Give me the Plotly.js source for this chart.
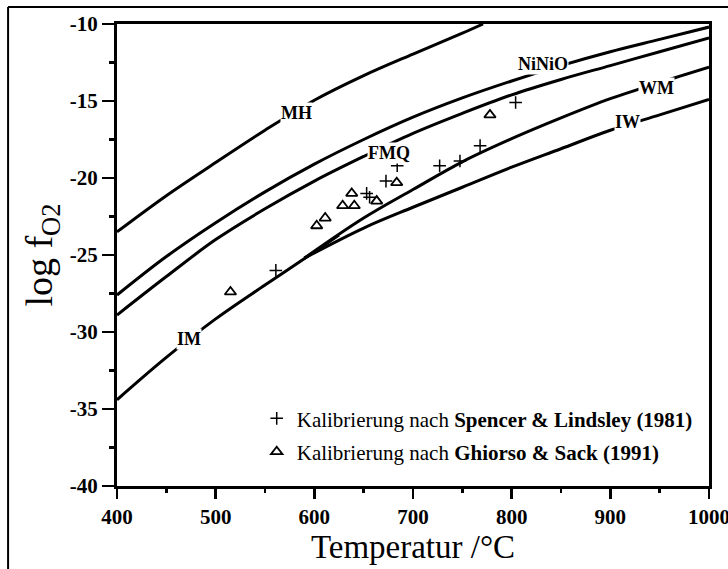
<!DOCTYPE html>
<html>
<head>
<meta charset="utf-8">
<script src="https://cdn.plot.ly/plotly-3.0.1.min.js"></script>
<style>html,body{margin:0;padding:0;background:#fff;}#chart{width:728px;height:569px;}</style>
</head>
<body>
<div id="chart"></div>
<script>
// Buffer curves (temperature in °C, log fO2)
const mhT   = [400, 450, 500, 550, 600, 650, 700, 750, 771];
const mhV   = [-23.5, -21.15, -19.0, -16.9, -14.95, -13.35, -11.95, -10.6, -10.0];
const ninioT = [400, 450, 500, 550, 600, 650, 700, 750, 800, 850, 900, 950, 1000];
const ninioV = [-27.6, -25.1, -22.9, -20.9, -19.1, -17.5, -16.05, -14.8, -13.7, -12.7, -11.8, -11.0, -10.2];
const fmqT  = [400, 450, 500, 550, 600, 650, 700, 750, 800, 850, 900, 950, 1000];
const fmqV  = [-28.9, -26.4, -24.0, -22.0, -20.2, -18.6, -17.1, -15.8, -14.6, -13.6, -12.7, -11.8, -10.9];
const imT   = [400, 450, 500, 550, 600, 625];
const imV   = [-34.4, -31.65, -29.15, -26.95, -24.8, -23.7];
const wmT   = [590, 650, 700, 750, 800, 850, 900, 950, 1000];
const wmV   = [-25.2, -22.6, -20.75, -18.95, -17.45, -16.1, -14.85, -13.8, -12.8];
const iwT   = [590, 650, 700, 750, 800, 850, 900, 950, 1000];
const iwV   = [-25.2, -23.25, -21.9, -20.6, -19.3, -18.1, -16.9, -15.9, -14.9];

// Measured points
const slT = [561, 653, 656, 672.6, 684, 727, 747.6, 768, 804];
const slV = [-26.0, -21.0, -21.25, -20.2, -19.2, -19.2, -18.9, -17.9, -15.1];
const gsT = [515, 602.4, 611, 628.7, 637.9, 640.5, 663.2, 683.5, 778];
const gsV = [-27.4, -23.1, -22.6, -21.8, -21.0, -21.8, -21.5, -20.3, -15.9];

// Curve labels
const labelText = ['MH', 'NiNiO', 'FMQ', 'WM', 'IW', 'IM'];
const labelT    = [582, 832, 676, 947, 917, 473];
const labelV    = [-15.8, -12.6, -18.4, -14.15, -16.35, -30.45];

// Axis ticks
const xTickVals = [400, 500, 600, 700, 800, 900, 1000];
const xTickText = ['400', '500', '600', '700', '800', '900', '1000'];
const yTickVals = [-40, -35, -30, -25, -20, -15, -10];
const yTickText = ['-40', '-35', '-30', '-25', '-20', '-15', '-10'];

const serif = 'Liberation Serif, Times New Roman, serif';
const lineStyle = {color: '#000', width: 3, shape: 'spline', smoothing: 1.0};

function curve(x, y) {
  return {x: x, y: y, mode: 'lines', line: lineStyle, showlegend: false, hoverinfo: 'skip', type: 'scatter'};
}

const data = [
  curve(mhT, mhV), curve(ninioT, ninioV), curve(fmqT, fmqV),
  curve(imT, imV), curve(wmT, wmV), curve(iwT, iwV),
  {x: slT, y: slV, mode: 'markers', type: 'scatter', legendgroup: 'a',
   name: 'Kalibrierung nach <b>Spencer &amp; Lindsley (1981)</b>',
   marker: {symbol: 'cross-thin', size: 9, color: '#000', line: {color: '#000', width: 1.5}}},
  {x: gsT, y: gsV, mode: 'markers', type: 'scatter', legendgroup: 'b',
   name: 'Kalibrierung nach <b>Ghiorso &amp; Sack (1991)</b>',
   marker: {symbol: 'triangle-up-open', size: 10, color: '#000', line: {color: '#000', width: 1.8}}}
];

const annotations = labelText.map((t, i) => ({
  x: labelT[i], y: labelV[i], xref: 'x', yref: 'y', text: t, showarrow: false,
  font: {family: serif, size: 18, color: '#000', weight: 'bold'},
  bgcolor: '#fff', borderpad: 0
}));

const layout = {
  width: 728, height: 569,
  margin: {l: 117, r: 19, t: 24, b: 83},
  paper_bgcolor: '#fff', plot_bgcolor: '#fff',
  font: {family: serif, color: '#000'},
  xaxis: {
    range: [400, 1000], tickvals: xTickVals, ticktext: xTickText, ticks: 'outside', ticklen: 10, tickwidth: 2.5,
    tickcolor: '#000', showgrid: false, zeroline: false, showline: true, linewidth: 3, linecolor: '#000',
    mirror: true, tickfont: {family: serif, size: 21, weight: 'bold'}, ticklabeloverflow: 'allow',
    minor: {dtick: 50, ticks: 'outside', ticklen: 4, tickwidth: 2.5, tickcolor: '#000'},
    title: {text: 'Temperatur /°C', font: {family: serif, size: 33}, standoff: 5}
  },
  yaxis: {
    range: [-40, -10], tickvals: yTickVals, ticktext: yTickText, ticks: 'outside', ticklen: 12, tickwidth: 2.5,
    tickcolor: '#000', showgrid: false, zeroline: false, showline: true, linewidth: 3, linecolor: '#000',
    mirror: true, tickfont: {family: serif, size: 21, weight: 'bold'},
    minor: {dtick: 2.5, ticks: 'outside', ticklen: 5, tickwidth: 2.5, tickcolor: '#000'},
    title: {text: 'log f<sub>O</sub><sub>2</sub>', font: {family: serif, size: 38}, standoff: 6}
  },
  legend: {x: 0.236, xanchor: 'left', y: 0.19, yanchor: 'top', bgcolor: 'rgba(0,0,0,0)',
           font: {family: serif, size: 21, color: '#000'}, traceorder: 'grouped', tracegroupgap: 3, itemwidth: 30},
  annotations: annotations,
  shapes: [
    {type: 'line', xref: 'paper', yref: 'paper', x0: -0.184, x1: -0.184, y0: 1.0368, y1: -0.25, line: {color: '#000', width: 2}},
    {type: 'line', xref: 'paper', yref: 'paper', x0: -0.184, x1: 1.04, y0: 1.0368, y1: 1.0368, line: {color: '#000', width: 2}}
  ]
};

Plotly.newPlot('chart', data, layout, {staticPlot: true, displayModeBar: false});
</script>
</body>
</html>
